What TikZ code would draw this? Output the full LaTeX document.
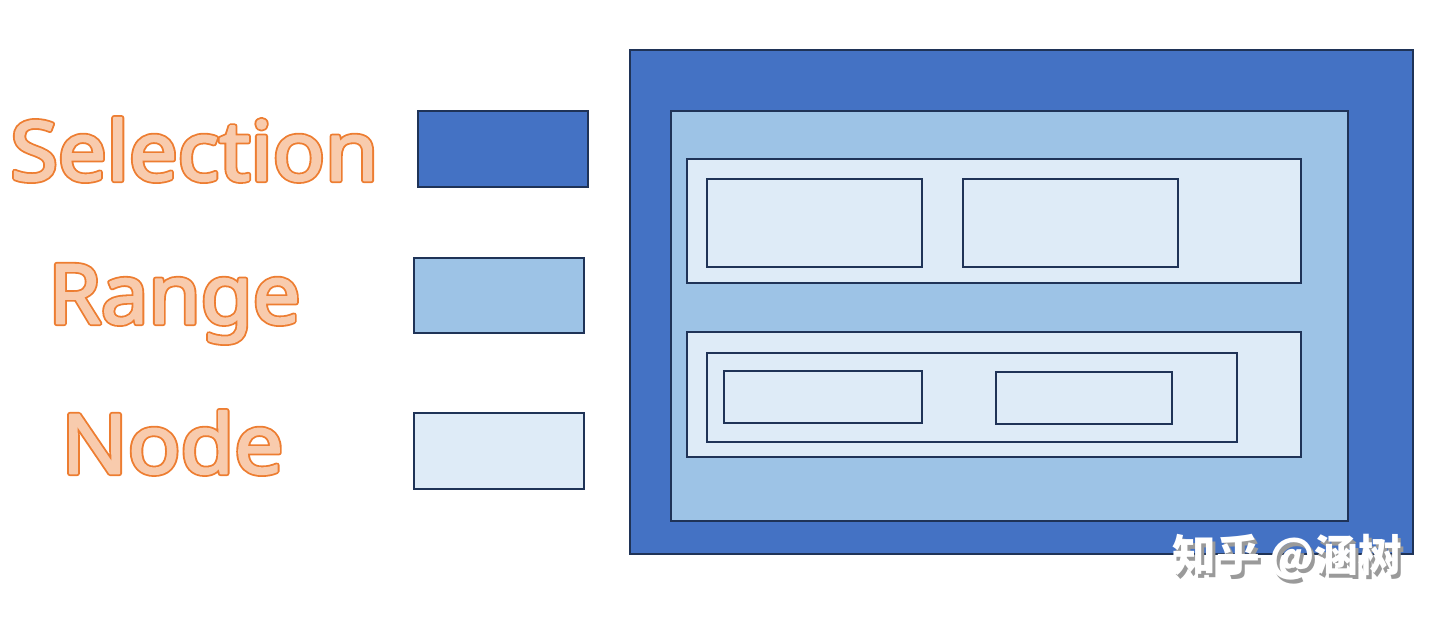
\documentclass[tikz,border=0pt]{standalone}
\usepackage{fontspec}
\setmainfont{Noto Sans}
\newfontfamily\legfont{Noto Sans}
\newfontfamily\cjk{Noto Sans CJK SC}
\definecolor{selc}{HTML}{4472C4}
\definecolor{rangec}{HTML}{9DC3E6}
\definecolor{nodec}{HTML}{DEEBF7}
\definecolor{edgec}{HTML}{1F3357}
\definecolor{txtfill}{HTML}{F8CBAD}
\definecolor{txtedge}{HTML}{ED7D31}
\definecolor{shadowc}{HTML}{9A9A9A}
\newcommand{\outlinetext}[2]{\resizebox{#1}{\height}{%
  \rlap{\color{txtedge}\special{pdf:code 2 Tr 1 j 2.6 w 0.929 0.490 0.192 RG}#2\special{pdf:code 0 Tr}}%
  {\color{txtfill}\special{pdf:code 2 Tr 1 j 0.8 w 0.973 0.796 0.678 RG}#2\special{pdf:code 0 Tr 0 j}}}}
\tikzset{
  box/.style={draw=edgec, line width=0.75pt},
  selbox/.style={box, fill=selc},
  rangebox/.style={box, fill=rangec},
  nodebox/.style={box, fill=nodec},
  legtext/.style={inner sep=0pt, anchor=base west, font=\legfont\fontsize{41.3}{45}\selectfont},
  wmtext/.style={inner sep=0pt, anchor=base west, font=\cjk\bfseries\fontsize{21.8}{24}\selectfont}
}
\begin{document}
\begin{tikzpicture}[x=0.5pt, y=-0.5pt]
\useasboundingbox (0,0) rectangle (1440,619);
% legend
\draw[selbox] (418,111) rectangle (588,187) coordinate (ls);
\draw[rangebox] (414,258) rectangle (584,333) coordinate (lr);
\draw[nodebox] (414,413) rectangle (584,489) coordinate (ln);
\node[legtext] (tsel) at (10,180.5) {\outlinetext{184pt}{Selection}};
\node[legtext] (trange) at (48,323.5) {\outlinetext{126pt}{Range}};
\node[legtext] (tnode) at (61,473.5) {\outlinetext{111pt}{Node}};
% main
\draw[selbox] (630,50) rectangle (1413,554);
\draw[rangebox] (671,111) rectangle (1348,521);
\draw[nodebox] (687,159) rectangle (1301,283);
\draw[nodebox] (707,179) rectangle (922,267);
\draw[nodebox] (963,179) rectangle (1178,267);
\draw[nodebox] (687,332) rectangle (1301,457);
\draw[nodebox] (707,353) rectangle (1237,442);
\draw[nodebox] (724,371) rectangle (922,423);
\draw[nodebox] (996,372) rectangle (1172,424);
% watermark
\node[wmtext, text=shadowc] (wms) at (1175,575) {知乎 @涵树};
\node[wmtext, text=white] (wm) at (1172,572) {知乎 @涵树};
\end{tikzpicture}
\end{document}
